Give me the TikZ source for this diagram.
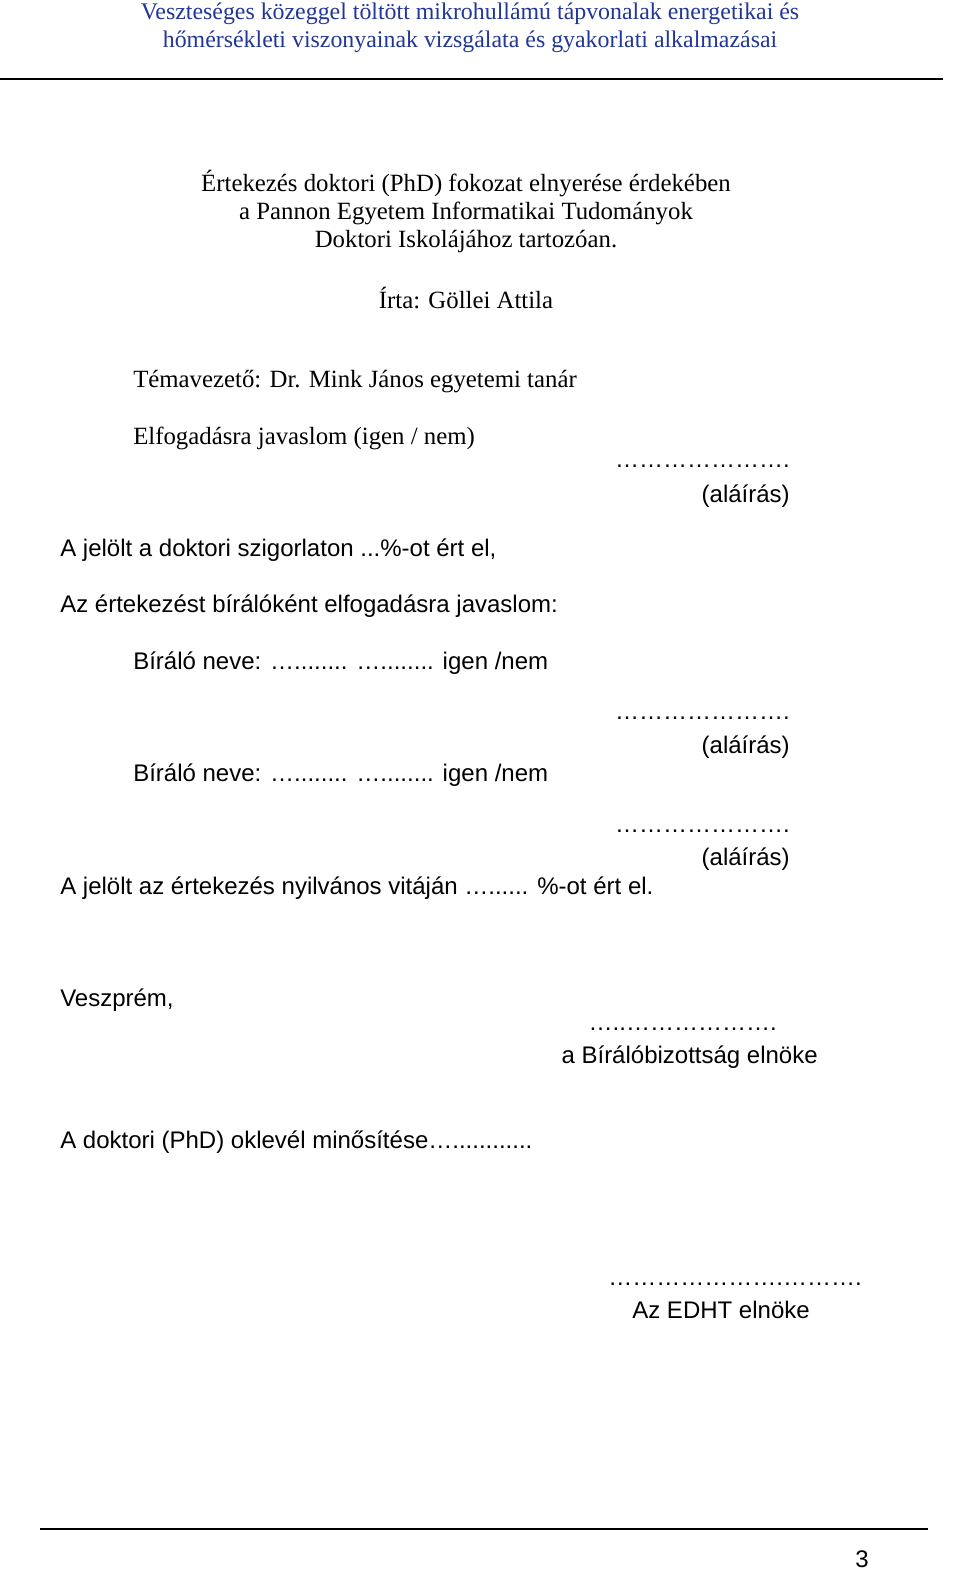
\documentclass[tikz,border=0pt]{standalone}
\usepackage{fontspec}
\setmainfont{Liberation Serif}
\newfontfamily\arialf{Liberation Sans}
\definecolor{hdr}{RGB}{35,55,150}
\begin{document}
\begin{tikzpicture}[x=0.75pt,y=-0.75pt,
  ser/.style={inner sep=0pt,font=\fontsize{18.6}{22}\selectfont},
  san/.style={inner sep=0pt,font=\arialf\fontsize{18}{22}\selectfont},
  hd/.style={inner sep=0pt,text=hdr,font=\fontsize{17.9}{22}\selectfont}]
\useasboundingbox[fill=white] (0,0) rectangle (960,1593);
\node[hd] (h1) at (470,14) {Veszteséges közeggel töltött mikrohullámú tápvonalak energetikai és};
\node[hd] (h2) at (470,42) {hőmérsékleti viszonyainak vizsgálata és gyakorlati alkalmazásai};
\draw[line width=2.2pt] (0,79) -- (943,79);
\node[ser] (t1) at (466,184) {Értekezés doktori (PhD) fokozat elnyerése érdekében};
\node[ser] (t2) at (466,213) {a Pannon Egyetem Informatikai Tudományok};
\node[ser] (t3) at (466,242) {Doktori Iskolájához tartozóan.};
\node[ser] (t4) at (466,298) {Írta: Göllei Attila};
\node[ser,anchor=west] (t5) at (133,382) {Témavezető: Dr. Mink János egyetemi tanár};
\node[ser,anchor=west] (t6) at (133,438) {Elfogadásra javaslom (igen / nem)};
\node[san,anchor=east] (d1) at (790,466) {………………….};
\node[san,anchor=east] (a1) at (790,496) {(aláírás)};
\node[san,anchor=west] (s1) at (60,550) {A jelölt a doktori szigorlaton ...\%-ot ért el,};
\node[san,anchor=west] (s2) at (60,606) {Az értekezést bírálóként elfogadásra javaslom:};
\node[san,anchor=west] (b1) at (133,663) {Bíráló neve: …........ …........ igen /nem};
\node[san,anchor=east] (d2) at (790,718) {………………….};
\node[san,anchor=east] (a2) at (790,747) {(aláírás)};
\node[san,anchor=west] (b2) at (133,775) {Bíráló neve: …........ …........ igen /nem};
\node[san,anchor=east] (d3) at (790,831) {………………….};
\node[san,anchor=east] (a3) at (790,859) {(aláírás)};
\node[san,anchor=west] (s3) at (60,888) {A jelölt az értekezés nyilvános vitáján …...... \%-ot ért el.};
\node[san,anchor=west] (v) at (60,1000) {Veszprém,};
\node[san,anchor=east] (d4) at (777,1029) {…..……………….};
\node[san,anchor=east] (e1) at (818,1057) {a Bírálóbizottság elnöke};
\node[san,anchor=west] (o) at (60,1142) {A doktori (PhD) oklevél minősítése…............};
\node[san,anchor=east] (d5) at (862,1284) {………………….……….};
\node[san,anchor=east] (e2) at (810,1310) {Az EDHT elnöke};
\draw[line width=2.2pt] (40,1529) -- (928,1529);
\node[san] (p) at (862,1559) {3};
\end{tikzpicture}
\end{document}
